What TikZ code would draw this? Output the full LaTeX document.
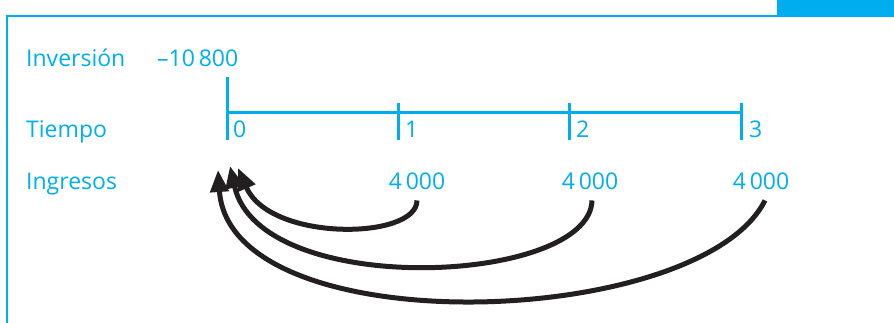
\documentclass[tikz,border=0pt]{standalone}
\usepackage{fontspec}
\setmainfont{Open Sans}
\usepackage{xcolor}
\usepackage{tikz}
\usetikzlibrary{arrows.meta, positioning}
\definecolor{primary}{RGB}{0,174,239}
\definecolor{ink}{RGB}{35,31,32}
\tikzset{
    label/.style={text=primary, inner sep=0pt, font=\fontsize{23}{27}\selectfont},
    axis/.style={draw=primary, line width=3pt},
    tick/.style={draw=primary, line width=3pt},
    frame/.style={draw=primary, line width=1.5pt},
    flow/.style={-{Triangle[length=22pt, width=18pt]}, draw=ink, line width=5pt}
}
\begin{document}
\begin{tikzpicture} [
    x=1pt, y=-1pt
]
    \useasboundingbox (0,0) rectangle (894,323);

    % Frame
    \fill[primary] (777,0) rectangle (894,17);
    \draw[frame] (7,323) -- (7,16) -- (777,16);

    % Row labels
    \node[label, anchor=base west] (inversion) at (26,67) {Inversión};
    \node[label, anchor=base west] (tiempo) at (26,138) {Tiempo};
    \node[label, anchor=base west] (ingresos) at (26,190) {Ingresos};

    % Investment
    \node[label, anchor=base west] (monto) at (157,67) {–10\,800};

    % Time line
    \draw[axis] (227,77) -- (227,140);
    \draw[axis] (227,113) -- (741,113);
    \foreach \x/\t in {398/1, 569/2, 741/3} {
        \draw[tick] (\x,103) -- (\x,140);
    }
    \node[label, anchor=base west] (t0) at (233,138) {0};
    \node[label, anchor=base west] (t1) at (405,138) {1};
    \node[label, anchor=base west] (t2) at (576,138) {2};
    \node[label, anchor=base west] (t3) at (749,138) {3};

    % Income
    \node[label, anchor=base] (i1) at (417,190) {4\,000};
    \node[label, anchor=base] (i2) at (590,190) {4\,000};
    \node[label, anchor=base] (i3) at (761,190) {4\,000};

    % Arrow ends
    \coordinate (a1) at (238,168);
    \coordinate (a2) at (230,166);
    \coordinate (a3) at (218,170);

    % Flows
    \draw[flow] ([yshift=-10pt]i1.south) .. controls (417,240) and (270,242) .. (a1);
    \draw[flow] ([xshift=2pt, yshift=-10pt]i2.south) .. controls (590,285) and (260,300) .. (a2);
    \draw[flow] ([xshift=4pt, yshift=-10pt]i3.south) .. controls (700,330) and (230,345) .. (a3);
\end{tikzpicture}
\end{document}
